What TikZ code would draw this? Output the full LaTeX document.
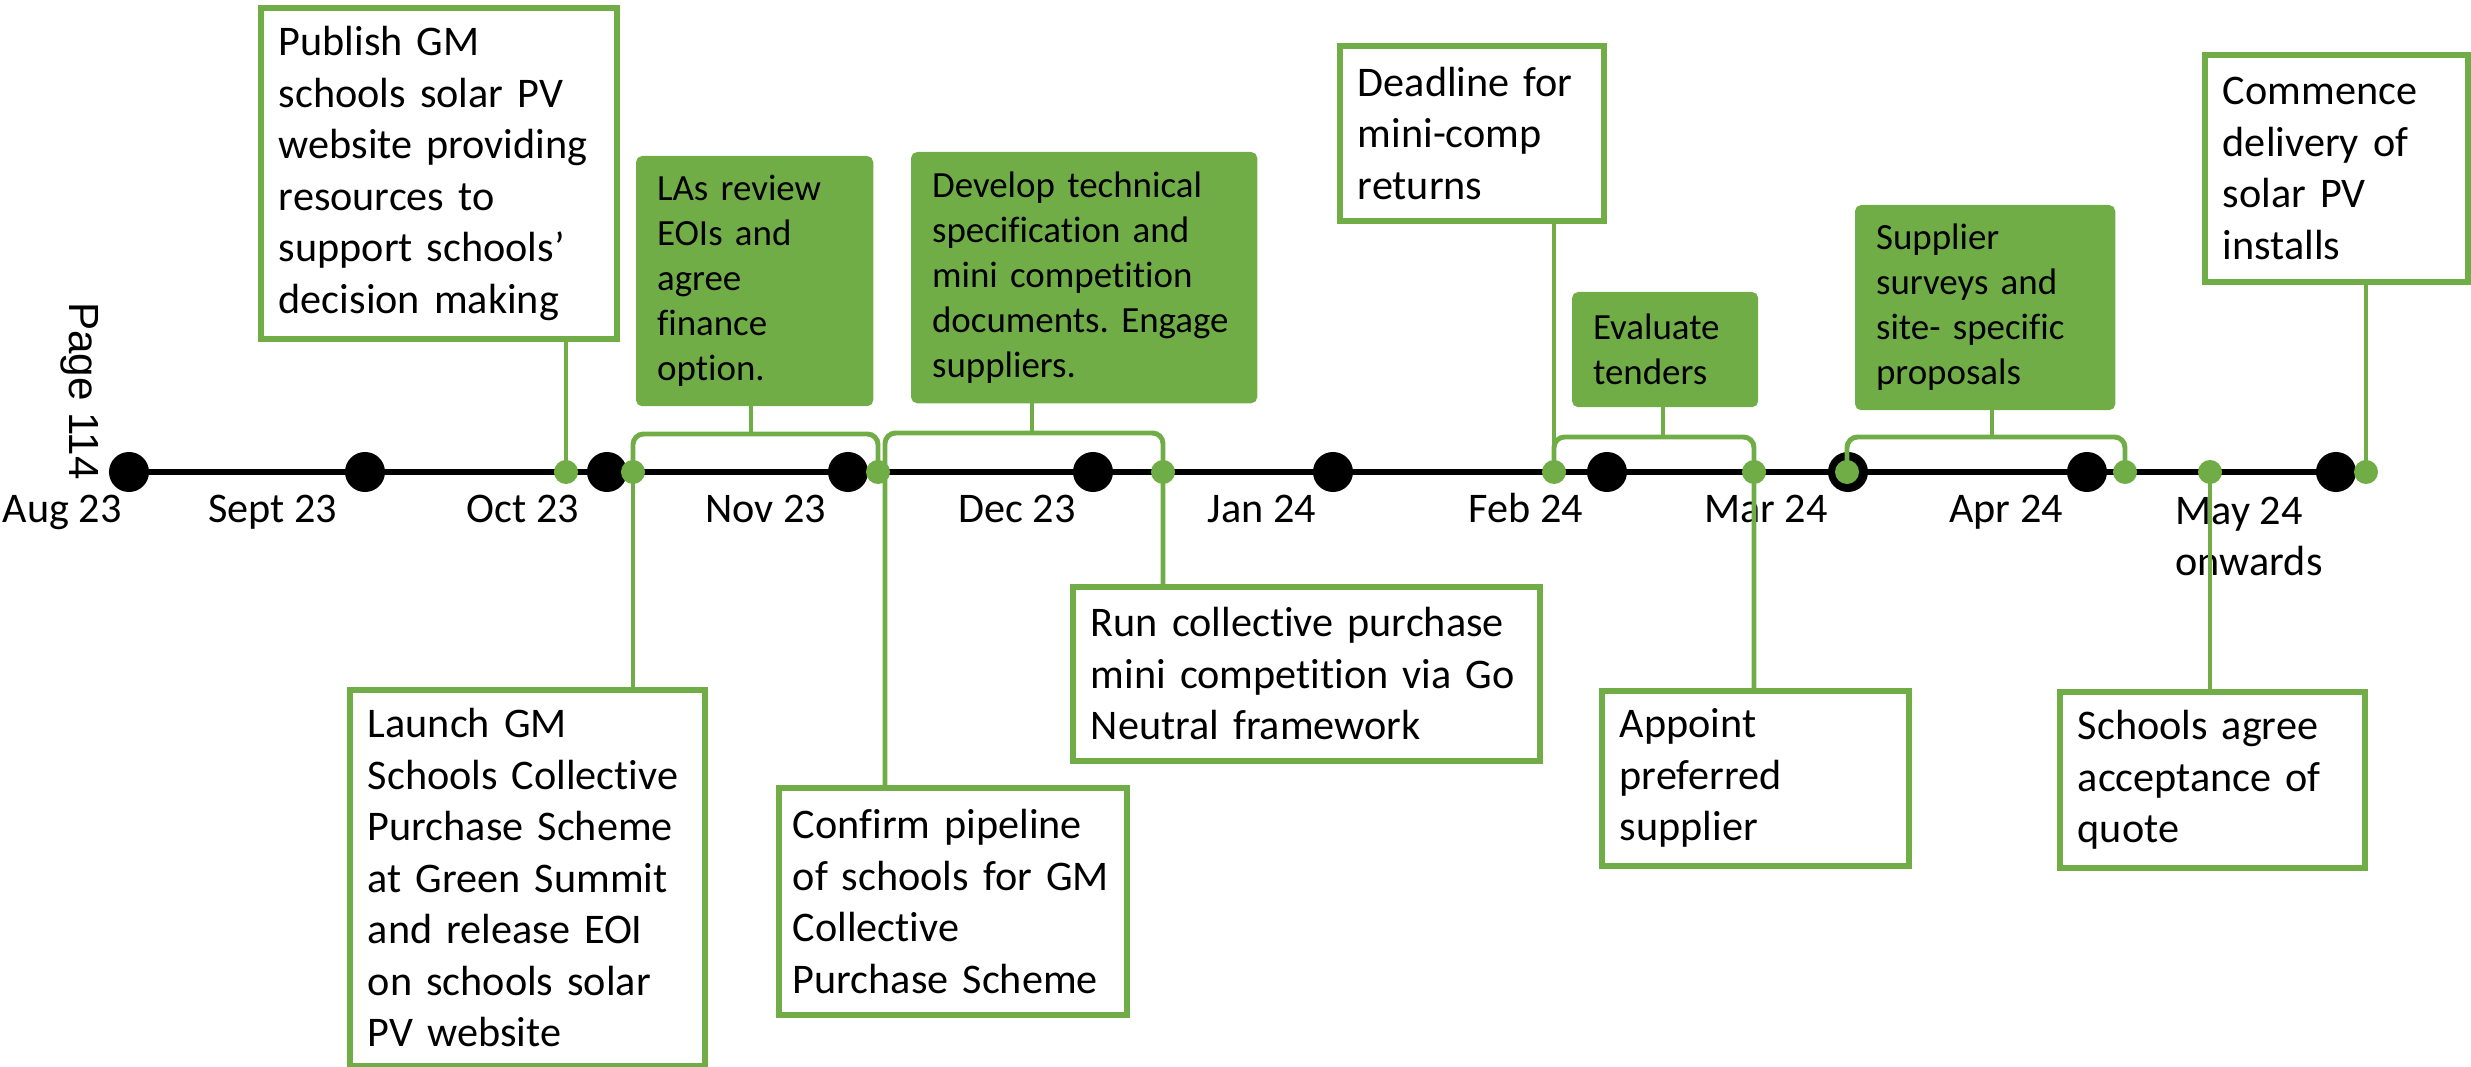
\documentclass[tikz,border=0pt]{standalone}
\usepackage{fontspec}
\setmainfont{Carlito}[Ligatures=NoCommon]
\newfontfamily\pagefont{Liberation Sans}
\usepackage{tikz}
\usetikzlibrary{positioning,backgrounds}
\definecolor{pvgreen}{RGB}{112,173,71}
\frenchspacing

\begin{document}
\begin{tikzpicture}[x=0.01cm,y=-0.01cm,font=\fontsize{12}{14.65}\selectfont]
\tikzset{
  wbox/.style={draw=pvgreen,line width=1.6pt,fill=white,anchor=north west,align=left,inner xsep=0.18cm,inner ysep=0pt},
  gbox/.style={draw=pvgreen,fill=pvgreen,line width=0.6pt,rounded corners=1.5pt,anchor=north west,align=left,inner xsep=0.2cm,inner ysep=0pt,font=\fontsize{10.5}{12.8}\selectfont},
  conn/.style={draw=pvgreen,line width=1.4pt,rounded corners=3pt},
  tline/.style={draw=black,line width=1.8pt},
  bdot/.style={circle,fill=black,minimum size=0.4cm,inner sep=0pt},
  gdot/.style={circle,fill=pvgreen,minimum size=0.24cm,inner sep=0pt},
  mlbl/.style={anchor=base,inner sep=0pt}
}
\useasboundingbox (0,0) rectangle (2471,1067);
% months on the line
\foreach \x [count=\i] in {129,365,607,848,1093,1333,1607,1848,2087,2336}
  \node[bdot] (b\i) at (\x,472) {};
\foreach \x [count=\i] in {566,633,878,1163,1554,1754,1847,2125,2210,2366}
  \node[gdot] (g\i) at (\x,472) {};
\begin{scope}[on background layer]
  \draw[tline] (b1.center) -- (b10.center);
\end{scope}
\foreach \x/\m [count=\i] in {62/Aug 23,273/Sept 23,523/Oct 23,766/Nov 23,1017/Dec 23,1262/Jan 24,1526/Feb 24,1766/Mar 24,2006/Apr 24}
  \node[mlbl] (m\i) at (\x,523) {\m};
\node[anchor=north west,inner sep=0pt,align=left] (m10) at (2175,496) {May 24\\onwards};
\node[font=\pagefont\fontsize{12}{14}\selectfont,rotate=-90] (pg) at (80,391) {Page 114};
% above the line
\node[wbox,text width=3.2cm,minimum height=3.31cm] (pub) at (258,5) {Publish GM\\schools solar PV\\website providing\\resources to\\support schools’\\decision making};
\node[gbox,text width=1.95cm,minimum height=2.48cm] (las) at (636,156) {LAs review\\EOIs and\\agree\\finance\\option.};
\node[gbox,text width=3.04cm,minimum height=2.49cm] (dev) at (911,152) {Develop technical\\specification and\\mini competition\\documents. Engage\\suppliers.};
\node[wbox,text width=2.28cm,minimum height=1.75cm] (dl) at (1337,43) {Deadline for\\mini-comp\\returns};
\node[gbox,text width=1.44cm,minimum height=1.13cm] (eva) at (1572,292) {Evaluate\\tenders};
\node[gbox,text width=2.18cm,minimum height=2.03cm] (sup) at (1855,205) {Supplier\\surveys and\\site- specific\\proposals};
\node[wbox,text width=2.27cm,minimum height=2.27cm] (com) at (2202,52) {Commence\\delivery of\\solar PV\\installs};
% below the line
\node[wbox,text width=3.19cm,minimum height=3.76cm] (lau) at (347,687) {Launch GM\\Schools Collective\\Purchase Scheme\\at Green Summit\\and release EOI\\on schools solar\\PV website};
\node[wbox,text width=3.2cm,inner xsep=0.14cm,minimum height=2.27cm] (cnf) at (776,785) {Confirm pipeline\\of schools for GM\\Collective\\Purchase Scheme};
\node[wbox,text width=4.31cm,minimum height=1.74cm] (run) at (1070,584) {Run collective purchase\\mini competition via Go\\Neutral framework};
\node[wbox,text width=2.71cm,minimum height=1.75cm] (app) at (1599,688) {Appoint\\preferred\\supplier};
\node[wbox,text width=2.69cm,minimum height=1.76cm] (sag) at (2057,689) {Schools agree\\acceptance of\\quote};
% connectors
\coordinate (k1) at (751,434);
\coordinate (k2) at (1032,433);
\coordinate (k2l) at (885,433);
\coordinate (k3) at (1663,437);
\coordinate (k4) at (1992,437);
\draw[conn] (g1.center) -- (g1 |- pub.south);
\draw[conn] (g2.center) -- (g2 |- lau.north);
\draw[conn] (g2.center) |- (k1) -| (g3.center);
\draw[conn] (k1) -- (k1 |- las.south);
\draw[conn] (cnf.north -| k2l) |- (k2) -| (g4 |- run.north);
\draw[conn] (k2) -- (k2 |- dev.south);
\draw[conn] (g5.center) -- (g5 |- dl.south);
\draw[conn] (g5.center) |- (k3) -| (g6 |- app.north);
\draw[conn] (k3) -- (k3 |- eva.south);
\draw[conn] (g7.center) |- (k4) -| (g8.center);
\draw[conn] (k4) -- (k4 |- sup.south);
\draw[conn] (g9.center) -- (g9 |- sag.north);
\draw[conn] (g10.center) -- (g10 |- com.south);
\end{tikzpicture}
\end{document}
